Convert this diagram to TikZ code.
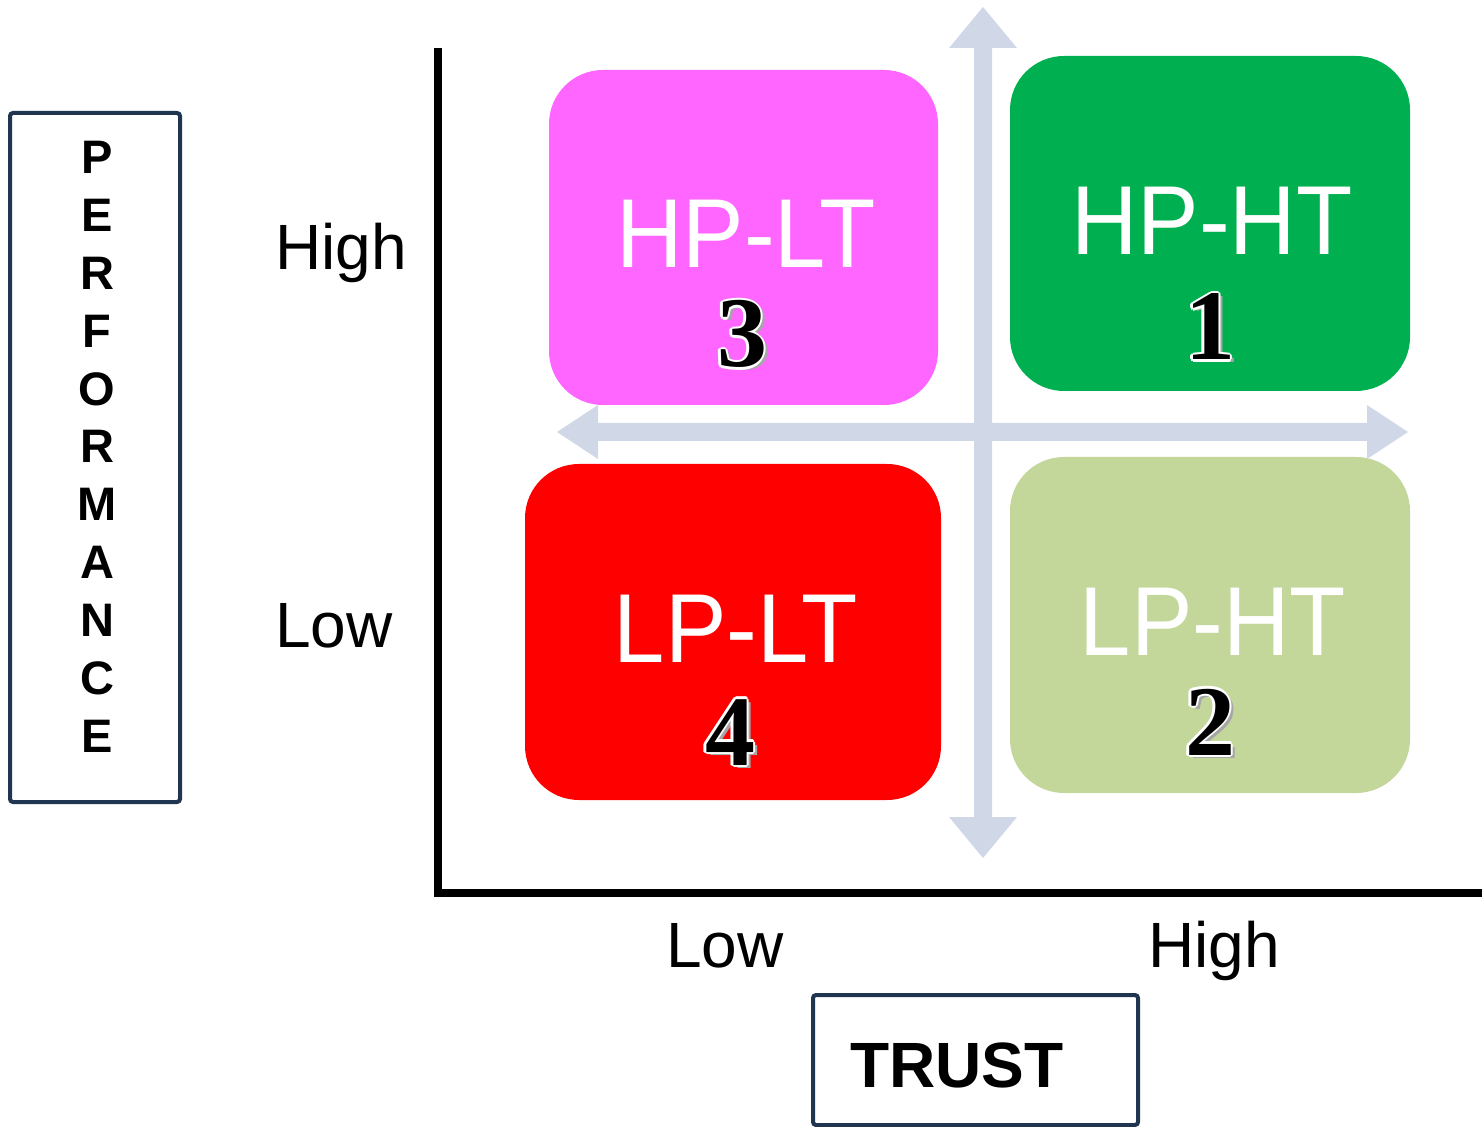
\documentclass[tikz,border=0pt]{standalone}
\usepackage{fontspec}
\setmainfont{Liberation Sans}
\newfontfamily\condfont[FakeStretch=0.94]{Liberation Sans}
\newfontfamily\numfont{Liberation Serif}
\usetikzlibrary{calc}
\definecolor{qmag}{HTML}{FF66FF}
\definecolor{qgreen}{HTML}{00B050}
\definecolor{qred}{HTML}{FF0000}
\definecolor{qlight}{HTML}{C4D79B}
\definecolor{crossc}{HTML}{D0D8E8}
\definecolor{navy}{HTML}{1F3550}
\tikzset{
  quad/.style={rounded corners=27pt, inner sep=0pt},
  qlabel/.style={text=white, font=\condfont\fontsize{49pt}{49pt}\selectfont, anchor=base, inner sep=0pt},
  numtxt/.style={font=\numfont\bfseries\fontsize{50pt}{50pt}\selectfont, anchor=base, inner sep=0pt},
  axlabel/.style={font=\fontsize{32pt}{32pt}\selectfont, anchor=base west, inner sep=0pt},
  frame/.style={draw=navy, line width=2pt, rounded corners=1.5pt},
  axisline/.style={line width=4pt, black},
}
\newcommand\bignum[3]{%
  \node[numtxt, text=black!35] at ($(#2)+(4,3)$) {#3};
  \foreach \a in {0,45,...,315} {\node[numtxt, text=white] at ($(#2)+(\a:2.5)$) {#3};}
  \node[numtxt] (#1) at (#2) {#3};
}
\begin{document}
\begin{tikzpicture}[x=0.5pt, y=-0.5pt]
\useasboundingbox (0,0) rectangle (1482,1127);

% performance frame
\draw[frame] (10,113) rectangle (180,802);
\foreach \L [count=\i from 0] in {P,E,R,F,O,R,M,A,N,C,E} {
  \node[font=\bfseries\fontsize{23.5pt}{23.5pt}\selectfont, anchor=base, inner sep=0pt] (perf\i) at (97,{174+57.8*\i}) {\L};
}

% trust frame
\draw[frame] (813,995) rectangle (1138,1125);
\node[font=\bfseries\fontsize{32pt}{32pt}\selectfont, anchor=base, inner sep=0pt] (trust) at (957,1087) {TRUST};

% axes
\coordinate (ytop) at (438,48);
\coordinate (origin) at (438,893);
\coordinate (xend) at (1482,893);
\coordinate (xstart) at (434,893);
\draw[axisline] (ytop) -- (origin);
\draw[axisline] (xstart) -- (xend);

% axis labels
\node[axlabel] (yhigh) at (275,270) {High};
\node[axlabel] (ylow) at (275,647) {Low};
\node[axlabel] (xlow) at (666,967) {Low};
\node[axlabel] (xhigh) at (1148,967) {High};

% cross arrows
\fill[crossc] (983,7) -- (1017,48) -- (992,48) -- (992,817) -- (1017,817) -- (983,858) -- (949,817) -- (974,817) -- (974,48) -- (949,48) -- cycle;
\fill[crossc] (557,432) -- (598,405) -- (598,423) -- (1367,423) -- (1367,405) -- (1408,432) -- (1367,459) -- (1367,441) -- (598,441) -- (598,459) -- cycle;

% quadrants
\node[quad, fill=qmag, minimum width=194.5pt, minimum height=167.5pt] (hplt) at (743.5,237.5) {};
\node[quad, fill=qgreen, minimum width=200pt, minimum height=167.5pt] (hpht) at (1210,223.5) {};
\node[quad, fill=qred, minimum width=208pt, minimum height=168pt] (lplt) at (733,632) {};
\node[quad, fill=qlight, minimum width=200pt, minimum height=168pt] (lpht) at (1210,625) {};

\node[qlabel] (thplt) at (746,268) {HP-LT};
\node[qlabel] (thpht) at (1212,255) {HP-HT};
\node[qlabel] (tlplt) at (736,662) {LP-LT};
\node[qlabel] (tlpht) at (1213,655) {LP-HT};

\coordinate (p3) at (742,367);
\coordinate (p1) at (1210,360);
\coordinate (p4) at (730,765);
\coordinate (p2) at (1210,755);
\bignum{n3}{p3}{3}
\bignum{n1}{p1}{1}
\bignum{n4}{p4}{4}
\bignum{n2}{p2}{2}
\end{tikzpicture}
\end{document}
